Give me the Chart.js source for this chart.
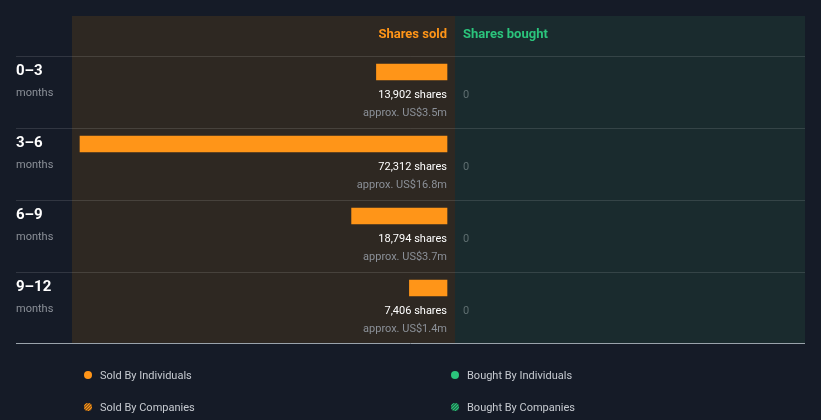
<!DOCTYPE html>
<html><head><meta charset="utf-8">
<script src="https://cdn.jsdelivr.net/npm/chart.js@4/dist/chart.umd.min.js"></script>
<style>html,body{margin:0;padding:0;background:#151b27;}#wrap{width:821px;height:420px;position:relative}</style>
</head><body><div id="wrap"><canvas id="c" width="821" height="420"></canvas></div>
<script>
const periods = ['0–3', '3–6', '6–9', '9–12'];
const periodUnit = 'months';
const soldShares = [13902, 72312, 18794, 7406];
const soldValue = ['approx. US$3.5m', 'approx. US$16.8m', 'approx. US$3.7m', 'approx. US$1.4m'];
const boughtShares = [0, 0, 0, 0];
const headers = ['Shares sold', 'Shares bought'];
const legendItems = ['Sold By Individuals', 'Bought By Individuals', 'Sold By Companies', 'Bought By Companies'];

const ORANGE = '#ff9518', GREEN = '#2bc47c';
const F = 'Roboto, "Noto Sans", sans-serif';

const deco = {
  id: 'deco',
  beforeDraw(chart) {
    const ctx = chart.ctx, ca = chart.chartArea, y = chart.scales.y;
    const mid = ca.right + 8;
    ctx.save();
    ctx.fillStyle = '#151b27'; ctx.fillRect(0, 0, chart.width, chart.height);
    ctx.fillStyle = '#2e2822'; ctx.fillRect(72, 16, mid - 72, 327);
    ctx.fillStyle = '#1a2b2e'; ctx.fillRect(mid, 16, 805 - mid, 327);
    ctx.font = 'bold 13px ' + F; ctx.textBaseline = 'middle';
    ctx.fillStyle = ORANGE; ctx.textAlign = 'right'; ctx.fillText(headers[0], ca.right, 35);
    ctx.fillStyle = GREEN; ctx.textAlign = 'left'; ctx.fillText(headers[1], mid + 8, 35);
    ctx.lineWidth = 1;
    for (let i = 0; i < periods.length; i++) {
      const ly = Math.round(y.getPixelForValue(i) - 16) + 0.5;
      ctx.strokeStyle = 'rgba(255,255,255,0.12)';
      ctx.beginPath(); ctx.moveTo(16, ly); ctx.lineTo(805, ly); ctx.stroke();
    }
    const by = Math.round(y.getPixelForValue(periods.length - 1) + 55) + 0.5;
    ctx.strokeStyle = '#9aa3ab';
    ctx.beginPath(); ctx.moveTo(16, by); ctx.lineTo(805, by); ctx.stroke();
    ctx.restore();
  },
  afterDatasetsDraw(chart) {
    const ctx = chart.ctx, ca = chart.chartArea, y = chart.scales.y;
    const mid = ca.right + 8;
    ctx.save();
    ctx.textBaseline = 'middle';
    periods.forEach((p, i) => {
      const cy = y.getPixelForValue(i);
      ctx.textAlign = 'left';
      ctx.font = 'bold 15px ' + F; ctx.fillStyle = '#ffffff'; ctx.fillText(p, 16, cy - 1);
      ctx.font = '11px ' + F; ctx.fillStyle = '#8b9098'; ctx.fillText(periodUnit, 16, cy + 21);
      ctx.textAlign = 'right';
      ctx.font = '11px ' + F; ctx.fillStyle = '#ffffff';
      ctx.fillText(soldShares[i].toLocaleString('en-US') + ' shares', ca.right, cy + 23);
      ctx.fillStyle = '#8b9098'; ctx.fillText(soldValue[i], ca.right, cy + 41);
      ctx.textAlign = 'left'; ctx.fillStyle = '#5f6e70';
      ctx.fillText(String(boughtShares[i]), mid + 8, cy + 23);
    });
    // legend
    const pos = [[88, 375], [455, 375], [88, 407], [455, 407]];
    legendItems.forEach((t, i) => {
      const [lx, ly] = pos[i];
      const col = i % 2 === 0 ? ORANGE : GREEN;
      ctx.save();
      ctx.beginPath(); ctx.arc(lx, ly, 4, 0, Math.PI * 2);
      if (i < 2) { ctx.fillStyle = col; ctx.fill(); }
      else {
        ctx.fillStyle = i === 2 ? '#4a3318' : '#163a2c'; ctx.fill(); ctx.clip();
        ctx.strokeStyle = col; ctx.lineWidth = 1.3;
        for (let k = -8; k <= 8; k += 3) {
          ctx.beginPath(); ctx.moveTo(lx + k - 5, ly + 5); ctx.lineTo(lx + k + 5, ly - 5); ctx.stroke();
        }
      }
      ctx.restore();
      ctx.font = '11px ' + F; ctx.fillStyle = '#c6cad0'; ctx.textAlign = 'left';
      ctx.fillText(t, lx + 12, ly + 1);
    });
    ctx.restore();
  }
};

new Chart(document.getElementById('c'), {
  type: 'bar',
  data: {
    labels: periods,
    datasets: [{ data: soldShares, backgroundColor: ORANGE, borderWidth: 0, barThickness: 16, clip: false }]
  },
  options: {
    indexAxis: 'y', responsive: false, animation: false,
    devicePixelRatio: 1,
    layout: { padding: { left: 80, right: 821 - 447, top: 72, bottom: 420 - 288 } },
    scales: {
      x: { display: false, reverse: true, min: 0, max: Math.max(...soldShares) },
      y: { display: false, offset: false }
    },
    plugins: { legend: { display: false }, tooltip: { enabled: false } }
  },
  plugins: [deco]
});
</script></body></html>
